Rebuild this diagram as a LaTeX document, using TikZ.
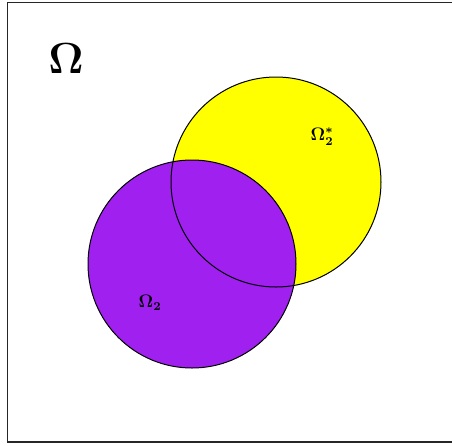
\documentclass[tikz,border=0pt]{standalone}
\usepackage{amsmath}
\usepackage{tikz}
\definecolor{SetYellow}{HTML}{FFFF00}
\definecolor{SetPurple}{HTML}{A020F0}

\begin{document}
\begin{tikzpicture}[x=1pt, y=-1pt, line width=1pt,
  setlabel/.style={inner sep=0pt, font=\large\boldmath, scale=1.5}]
  \useasboundingbox (0,0) rectangle (452,445);
  % frame (right side falls outside the picture)
  \draw[line width=1.2pt, black!85] (470,2.5) -- (7.5,2.5) -- (7.5,442) -- (470,442);
  % the two sets: fills first, outlines on top
  \fill[SetYellow] (276,182) circle (105);
  \fill[SetPurple] (192,264) circle (104);
  \draw (276,182) circle (105);
  \draw (192,264) circle (104);
  % labels
  \node[inner sep=0pt, font=\Huge\boldmath, scale=1.75] (omega) at (66,59) {$\Omega$};
  \node[setlabel] (omegastar) at (322,137) {$\Omega_2^{*}$};
  \node[setlabel] (omegatwo) at (150,303) {$\Omega_2$};
\end{tikzpicture}
\end{document}
